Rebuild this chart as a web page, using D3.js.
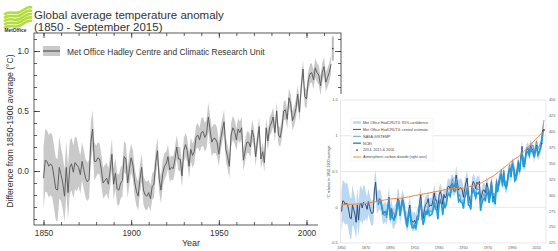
<!DOCTYPE html>
<html><head><meta charset="utf-8">
<script src="https://cdn.jsdelivr.net/npm/d3@7/dist/d3.min.js"></script>
<style>html,body{margin:0;padding:0;background:#fff;overflow:hidden}text{font-family:"Liberation Sans",Arial,sans-serif}</style>
</head><body>
<svg id="c" width="558" height="251"></svg>
<script>
// ---------------- DATA ----------------
const startYear = 1850;
// HadCRUT4 annual anomaly relative to 1850-1900 (°C), 1850-2016
const hadcrut = [
-0.06,0.09,0.08,0.04,0.06,0.04,-0.05,-0.15,-0.16,0.03,
-0.03,-0.10,-0.21,0.03,-0.18,0.03,0.06,-0.01,0.07,0.05,
0.03,-0.03,0.08,0.01,-0.06,-0.09,-0.07,0.24,0.35,0.08,
0.08,0.11,0.10,0.01,-0.10,-0.08,-0.06,-0.11,0.00,0.14,
-0.11,-0.02,-0.15,-0.16,-0.10,-0.08,0.12,0.10,-0.10,0.02,
0.11,0.05,-0.09,-0.17,-0.21,-0.07,0.03,-0.16,-0.20,-0.21,
-0.18,-0.23,-0.13,-0.11,0.07,0.17,-0.07,-0.16,-0.02,0.04,
0.06,0.12,0.01,0.03,0.02,0.10,0.20,0.10,0.10,-0.04,
0.17,0.22,0.17,0.04,0.18,0.13,0.16,0.28,0.30,0.26,
0.32,0.33,0.28,0.31,0.45,0.34,0.24,0.27,0.27,0.24,
0.14,0.26,0.34,0.41,0.18,0.12,0.04,0.30,0.36,0.33,
0.26,0.35,0.32,0.36,0.09,0.17,0.24,0.24,0.20,0.34,
0.28,0.12,0.25,0.37,0.10,0.16,0.07,0.36,0.25,0.37,
0.40,0.45,0.32,0.50,0.30,0.28,0.36,0.50,0.51,0.43,
0.61,0.56,0.42,0.46,0.52,0.64,0.49,0.70,0.85,0.62,
0.60,0.75,0.81,0.82,0.76,0.86,0.82,0.80,0.71,0.82,
0.87,0.74,0.78,0.82,0.89,1.07,1.08];
// 95% half-width of the uncertainty band, per decade (1850s ... 2010s)
const bandHalfWidth = [0.26,0.22,0.16,0.13,0.13,0.12,0.11,0.10,0.10,0.12,0.10,0.09,0.08,0.08,0.08,0.08,0.08];
// Left chart: last year drawn as line, and Jan-Sep 2015 point with error bar
const leftLastYear = 2014;
const point2015 = [{year:2015, value:1.02, lo:0.92, hi:1.12}];
// NASA GISTEMP relative to 1850-1900, 1880-2016
const gistStart = 1880;
const gistemp = [
0.05,0.13,0.11,0.04,-0.07,-0.12,-0.10,-0.15,0.04,0.11,
-0.14,-0.01,-0.06,-0.10,-0.09,-0.01,0.10,0.10,-0.06,0.04,
0.13,0.06,-0.07,-0.16,-0.26,-0.05,-0.01,-0.18,-0.22,-0.27,
-0.22,-0.23,-0.15,-0.13,0.06,0.07,-0.15,-0.25,-0.08,-0.06,
-0.06,0.02,-0.07,-0.05,-0.06,-0.01,0.11,-0.01,0.01,-0.15,
0.05,0.11,0.05,-0.08,0.08,0.01,0.06,0.18,0.21,0.19,
0.34,0.40,0.28,0.30,0.41,0.30,0.14,0.18,0.10,0.10,
0.04,0.14,0.22,0.29,0.08,0.07,0.02,0.26,0.27,0.24,
0.18,0.27,0.24,0.26,0.01,0.10,0.15,0.19,0.13,0.26,
0.24,0.13,0.22,0.37,0.14,0.20,0.11,0.39,0.28,0.37,
0.47,0.53,0.35,0.52,0.37,0.33,0.39,0.53,0.60,0.48,
0.66,0.61,0.43,0.44,0.52,0.66,0.54,0.67,0.82,0.59,
0.60,0.75,0.84,0.83,0.74,0.89,0.85,0.87,0.75,0.86,
0.93,0.82,0.85,0.89,0.96,1.11,1.22];
// NOAA NCEI relative to 1850-1900, 1880-2016
const nceiStart = 1880;
const ncei = [
0.03,0.08,0.08,0.01,-0.07,-0.07,-0.06,-0.11,0.00,0.05,
-0.18,-0.10,-0.15,-0.18,-0.14,-0.09,0.06,0.05,-0.12,0.00,
0.09,0.01,-0.10,-0.21,-0.28,-0.13,-0.06,-0.23,-0.28,-0.29,
-0.25,-0.29,-0.18,-0.17,0.00,0.06,-0.15,-0.24,-0.18,-0.05,
-0.11,-0.03,-0.12,-0.11,-0.10,-0.05,0.08,-0.03,-0.03,-0.17,
0.04,0.09,0.04,-0.11,0.04,0.00,0.04,0.17,0.18,0.15,
0.24,0.30,0.23,0.22,0.34,0.22,0.08,0.11,0.07,0.06,
-0.02,0.13,0.18,0.26,0.03,0.02,-0.03,0.20,0.24,0.19,
0.13,0.20,0.19,0.22,-0.05,0.05,0.10,0.13,0.08,0.22,
0.18,0.06,0.16,0.31,0.07,0.13,0.04,0.32,0.21,0.31,
0.41,0.47,0.29,0.46,0.31,0.27,0.33,0.48,0.55,0.42,
0.60,0.56,0.37,0.39,0.46,0.60,0.50,0.66,0.78,0.57,
0.57,0.70,0.78,0.77,0.72,0.81,0.78,0.77,0.70,0.79,
0.85,0.73,0.77,0.82,0.89,1.05,1.09];
// Atmospheric CO2 (ppm)
const co2Years  = [1850,1860,1870,1880,1890,1900,1910,1920,1930,1940,1950,1960,1965,1970,1975,1980,1985,1990,1995,2000,2005,2010,2015,2016];
const co2Values = [285.2,286.0,287.4,290.7,294.3,295.7,299.7,303.0,307.0,310.4,311.3,316.9,320.0,325.7,331.1,338.8,346.1,354.4,360.8,369.7,379.8,389.9,400.8,404.2];
const latestYears = [2014,2015,2016];
// Tick values / labels
const leftXTicks = [1850,1900,1950,2000];
const leftYTicks = [0.0,0.5,1.0];
const rightXTicks = [1850,1870,1890,1910,1930,1950,1970,1990,2010];
const rightYTicks = [-0.5,0,0.5,1,1.5];
const rightY2Ticks = [225,250,275,300,325,350,375,400,425,450];
const legendLabels = ["Met Office HadCRUT4: 95% confidence","Met Office HadCRUT4: central estimate","NASA GISTEMP","NCEI","2014, 2015 & 2016","Atmospheric carbon dioxide (right axis)"];

// ---------------- HELPERS ----------------
const rows = hadcrut.map((v,i)=>({year:startYear+i, value:v, hw:bandHalfWidth[Math.floor(i/10)]}));
const gRows = gistemp.map((v,i)=>({year:gistStart+i, value:v}));
const nRows = ncei.map((v,i)=>({year:nceiStart+i, value:v}));
const co2Rows = co2Years.map((y,i)=>({year:y, value:co2Values[i]}));

const svg = d3.select("#c");

// ---------------- LOGO & TITLE ----------------
const logo = svg.append("g");
[0,1,2,3,4].forEach(k=>{
  const y0 = 12.5 + k*3.4;
  logo.append("path")
    .attr("d",`M4,${y0+2} C10,${y0-3} 15,${y0+3} 21,${y0-1} S29,${y0-6} 32,${y0-5}`)
    .attr("fill","none").attr("stroke","#b2dd3a").attr("stroke-width",2.6);
});
svg.append("text").attr("x",4.5).attr("y",31.5).attr("font-size",4.8).attr("font-weight","bold").attr("fill","#333").text("MetOffice");
svg.append("text").attr("x",34).attr("y",18.5).attr("font-size",11.5).attr("fill","#333").text("Global average temperature anomaly");
svg.append("text").attr("x",34).attr("y",30.5).attr("font-size",11.5).attr("fill","#333").text("(1850 - September 2015)");

// ---------------- LEFT CHART ----------------
const L = {x0:34, x1:341, y0:33, y1:225};
const xL = d3.scaleLinear().domain([1844.58,2019.68]).range([L.x0,L.x1]);
const yL = d3.scaleLinear().domain([-0.45,1.15]).range([L.y1,L.y0]);
const left = svg.append("g");
const lineRows = rows.filter(d=>d.year<=leftLastYear);

left.append("path").datum(lineRows)
  .attr("d", d3.area().x(d=>xL(d.year)).y0(d=>yL(d.value-d.hw)).y1(d=>yL(d.value+d.hw)))
  .attr("fill","#c9c9c9");
left.append("path").datum(lineRows)
  .attr("d", d3.line().x(d=>xL(d.year)).y(d=>yL(d.value)))
  .attr("fill","none").attr("stroke","#555").attr("stroke-width",0.9);

// 2015 point
left.selectAll(".eb").data(point2015).enter().append("line")
  .attr("x1",d=>xL(d.year)).attr("x2",d=>xL(d.year)).attr("y1",d=>yL(d.lo)).attr("y2",d=>yL(d.hi))
  .attr("stroke","#bbb").attr("stroke-width",2);
left.selectAll(".pt").data(point2015).enter().append("circle")
  .attr("cx",d=>xL(d.year)).attr("cy",d=>yL(d.value)).attr("r",0.9).attr("fill","#444");

// frame
left.append("rect").attr("x",L.x0).attr("y",L.y0).attr("width",L.x1-L.x0).attr("height",L.y1-L.y0)
  .attr("fill","none").attr("stroke","#333").attr("stroke-width",0.8);

const minorX = d3.range(1850,2020,10);
const minorY = d3.range(-4,12).map(v=>v/10);
function styleAxis(g){ g.select(".domain").remove(); g.selectAll("line").attr("stroke","#333").attr("stroke-width",0.8); g.selectAll("text").attr("fill","#333").attr("font-size",8.3).attr("font-family","Liberation Sans, Arial, sans-serif"); }
// bottom
left.append("g").attr("transform",`translate(0,${L.y1})`).call(d3.axisBottom(xL).tickValues(minorX).tickSize(-3).tickFormat("")).call(styleAxis);
left.append("g").attr("transform",`translate(0,${L.y1})`).call(d3.axisBottom(xL).tickValues(leftXTicks).tickSize(-5).tickPadding(5).tickFormat(d3.format("d"))).call(styleAxis);
// top
left.append("g").attr("transform",`translate(0,${L.y0})`).call(d3.axisTop(xL).tickValues(minorX).tickSize(-3).tickFormat("")).call(styleAxis);
left.append("g").attr("transform",`translate(0,${L.y0})`).call(d3.axisTop(xL).tickValues(leftXTicks).tickSize(-5).tickFormat("")).call(styleAxis);
// left
left.append("g").attr("transform",`translate(${L.x0},0)`).call(d3.axisLeft(yL).tickValues(minorY).tickSize(-3).tickFormat("")).call(styleAxis);
left.append("g").attr("transform",`translate(${L.x0},0)`).call(d3.axisLeft(yL).tickValues(leftYTicks).tickSize(-6).tickPadding(5).tickFormat(d3.format(".1f"))).call(styleAxis);
// right
left.append("g").attr("transform",`translate(${L.x1},0)`).call(d3.axisRight(yL).tickValues(minorY).tickSize(-3).tickFormat("")).call(styleAxis);
left.append("g").attr("transform",`translate(${L.x1},0)`).call(d3.axisRight(yL).tickValues(leftYTicks).tickSize(-6).tickFormat("")).call(styleAxis);

left.append("text").attr("x",191).attr("y",246).attr("text-anchor","middle").attr("font-size",9).attr("fill","#333").text("Year");
left.append("text").attr("transform","translate(13,131) rotate(-90)").attr("text-anchor","middle").attr("font-size",8.6).attr("fill","#333").text("Difference from 1850-1900 average (°C)");

// legend
left.append("rect").attr("x",43).attr("y",46).attr("width",17).attr("height",10).attr("fill","#c9c9c9");
left.append("line").attr("x1",43).attr("x2",60).attr("y1",51).attr("y2",51).attr("stroke","#555").attr("stroke-width",1.2);
left.append("text").attr("x",67).attr("y",54.5).attr("font-size",8.4).attr("fill","#333").text("Met Office Hadley Centre and Climatic Research Unit");

// ---------------- RIGHT (OVERLAID) CHART ----------------
svg.append("rect").attr("x",318).attr("y",94).attr("width",240).attr("height",157).attr("fill","#fff");
const R = {x0:340.5, x1:546, y0:100, y1:243};
const xR = d3.scaleLinear().domain([1850,2016]).range([R.x0+1,R.x1-2]);
const yR = d3.scaleLinear().domain([-0.5,1.5]).range([R.y1,R.y0]);
const yR2 = d3.scaleLinear().domain([225,450]).range([R.y1,R.y0]);
const right = svg.append("g");

right.selectAll(".grid").data(rightYTicks).enter().append("line")
  .attr("x1",R.x0).attr("x2",R.x1).attr("y1",d=>yR(d)).attr("y2",d=>yR(d))
  .attr("stroke","#d9d9d9").attr("stroke-width",0.6);
right.append("line").attr("x1",R.x0).attr("x2",R.x0).attr("y1",R.y0).attr("y2",R.y1).attr("stroke","#d9d9d9").attr("stroke-width",0.6);
right.append("line").attr("x1",R.x1).attr("x2",R.x1).attr("y1",R.y0).attr("y2",R.y1).attr("stroke","#d9d9d9").attr("stroke-width",0.6);

right.append("path").datum(rows)
  .attr("d", d3.area().x(d=>xR(d.year)).y0(d=>yR(d.value-d.hw*1.1)).y1(d=>yR(d.value+d.hw*1.1)))
  .attr("fill","#bcd7f0");
right.append("path").datum(rows)
  .attr("d", d3.line().x(d=>xR(d.year)).y(d=>yR(d.value)))
  .attr("fill","none").attr("stroke","#1f3f6e").attr("stroke-width",0.9);
right.append("path").datum(gRows)
  .attr("d", d3.line().x(d=>xR(d.year)).y(d=>yR(d.value)))
  .attr("fill","none").attr("stroke","#5b8fc2").attr("stroke-width",0.8);
right.append("path").datum(nRows)
  .attr("d", d3.line().x(d=>xR(d.year)).y(d=>yR(d.value)))
  .attr("fill","none").attr("stroke","#1e9ddb").attr("stroke-width",1.5);
right.append("path").datum(co2Rows)
  .attr("d", d3.line().curve(d3.curveMonotoneX).x(d=>xR(d.year)).y(d=>yR2(d.value)))
  .attr("fill","none").attr("stroke","#f0883a").attr("stroke-width",1);
right.selectAll(".latest").data(rows.filter(d=>latestYears.includes(d.year))).enter().append("circle")
  .attr("cx",d=>xR(d.year)).attr("cy",d=>yR(d.value)).attr("r",0.9).attr("fill","#8b3a2a");

// axis labels
const fs = 3.8;
right.selectAll(".yl").data(rightYTicks).enter().append("text")
  .attr("x",R.x0-3).attr("y",d=>yR(d)+1.3).attr("text-anchor","end").attr("font-size",fs).attr("fill","#595959").text(d=>String(d));
right.selectAll(".y2l").data(rightY2Ticks).enter().append("text")
  .attr("x",R.x1+3).attr("y",d=>yR2(d)+1.3).attr("font-size",fs).attr("fill","#595959").text(d=>String(d));
right.selectAll(".xl").data(rightXTicks).enter().append("text")
  .attr("x",d=>xR(d)).attr("y",R.y1+5.5).attr("text-anchor","middle").attr("font-size",fs).attr("fill","#595959").text(d=>String(d));
right.append("text").attr("transform",`translate(330,172) rotate(-90)`).attr("text-anchor","middle").attr("font-size",3.6).attr("fill","#333").text("°C relative to 1850-1900 average");

// legend
const lg = right.append("g");
lg.append("rect").attr("x",351).attr("y",118).attr("width",82).attr("height",43).attr("fill","#fff").attr("stroke","#e6e6e6").attr("stroke-width",0.4);
const swatches = [
  {type:"line", color:"#bcd7f0", w:2.5},
  {type:"line", color:"#1f3f6e", w:0.9},
  {type:"line", color:"#5b8fc2", w:0.9},
  {type:"line", color:"#1e9ddb", w:1.5},
  {type:"dot",  color:"#8b3a2a"},
  {type:"line", color:"#f0883a", w:1}
];
legendLabels.forEach((t,i)=>{
  const yy = 122.5 + i*6.9;
  const s = swatches[i];
  if (s.type==="line") lg.append("line").attr("x1",353).attr("x2",361).attr("y1",yy).attr("y2",yy).attr("stroke",s.color).attr("stroke-width",s.w);
  else lg.append("circle").attr("cx",357).attr("cy",yy).attr("r",0.9).attr("fill",s.color);
  lg.append("text").attr("x",363).attr("y",yy+1.3).attr("font-size",3.7).attr("fill","#444").text(t);
});
</script>
</body></html>
